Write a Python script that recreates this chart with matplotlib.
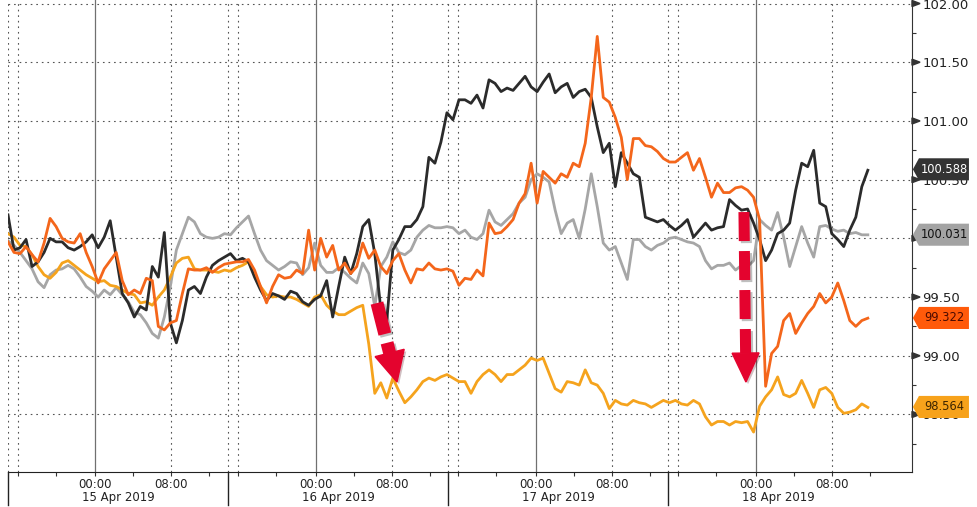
import numpy as np
import matplotlib
matplotlib.use('Agg')
import matplotlib.pyplot as plt
import matplotlib.patheffects as pe
from matplotlib.patches import Polygon

# ---- data (one value every ~40 min of trading time) ----
black = [100.20, 99.90, 99.92, 99.99, 99.76, 99.80, 99.88, 100.00, 99.97, 99.97, 99.92, 99.90,
         99.93, 99.97, 100.03, 99.92, 100.01, 100.15, 99.84, 99.53, 99.45, 99.33, 99.42, 99.39,
         99.76, 99.67, 100.05, 99.28, 99.11, 99.30, 99.56, 99.59, 99.53, 99.67, 99.77, 99.81,
         99.84, 99.87, 99.81, 99.83, 99.80, 99.67, 99.56, 99.47, 99.53, 99.51, 99.48, 99.55,
         99.53, 99.46, 99.43, 99.48, 99.51, 99.64, 99.33, 99.59, 99.84, 99.70, 99.87, 100.10,
         100.16, 99.87, 99.40, 99.30, 99.90, 99.99, 100.10, 100.10, 100.16, 100.27, 100.69, 100.64,
         100.82, 101.07, 101.01, 101.18, 101.18, 101.15, 101.22, 101.11, 101.35, 101.32, 101.25, 101.28,
         101.26, 101.32, 101.38, 101.29, 101.25, 101.33, 101.40, 101.24, 101.29, 101.32, 101.20, 101.25,
         101.27, 101.20, 100.95, 100.73, 100.81, 100.44, 100.73, 100.64, 100.55, 100.52, 100.18, 100.16,
         100.14, 100.16, 100.11, 100.07, 100.11, 100.16, 100.01, 100.07, 100.13, 100.07, 100.09, 100.10,
         100.33, 100.28, 100.24, 100.25, 100.13, 99.99, 99.81, 99.90, 100.04, 100.07, 100.13, 100.41,
         100.64, 100.61, 100.75, 100.30, 100.27, 100.04, 99.99, 99.93, 100.07, 100.18, 100.44, 100.58]

orange = [99.97, 99.88, 99.87, 99.93, 99.86, 99.80, 99.96, 100.17, 100.10, 100.00, 99.97, 99.96,
          100.04, 99.88, 99.76, 99.62, 99.74, 99.81, 99.88, 99.64, 99.52, 99.56, 99.53, 99.66,
          99.64, 99.25, 99.22, 99.28, 99.30, 99.53, 99.74, 99.73, 99.73, 99.75, 99.71, 99.75,
          99.78, 99.79, 99.80, 99.80, 99.82, 99.73, 99.59, 99.45, 99.59, 99.69, 99.66, 99.67,
          99.73, 99.70, 100.07, 99.73, 100.00, 99.84, 99.94, 99.73, 99.79, 99.70, 99.76, 99.96,
          99.83, 99.90, 99.76, 99.70, 99.81, 99.87, 99.73, 99.62, 99.74, 99.73, 99.79, 99.74,
          99.73, 99.74, 99.72, 99.60, 99.66, 99.65, 99.73, 99.68, 100.13, 100.04, 100.05, 100.10,
          100.16, 100.30, 100.38, 100.64, 100.30, 100.57, 100.52, 100.47, 100.55, 100.52, 100.64, 100.61,
          100.81, 101.20, 101.72, 101.20, 101.16, 101.03, 100.86, 100.50, 100.85, 100.85, 100.79, 100.78,
          100.74, 100.68, 100.65, 100.65, 100.69, 100.73, 100.58, 100.68, 100.52, 100.35, 100.47, 100.39,
          100.39, 100.43, 100.44, 100.41, 100.35, 100.16, 98.74, 99.02, 99.08, 99.30, 99.36, 99.19,
          99.28, 99.36, 99.42, 99.53, 99.45, 99.50, 99.62, 99.47, 99.30, 99.25, 99.30, 99.32]

gray = [99.98, 99.94, 99.88, 99.81, 99.74, 99.63, 99.58, 99.69, 99.73, 99.74, 99.77, 99.74,
        99.67, 99.59, 99.55, 99.50, 99.56, 99.52, 99.58, 99.52, 99.46, 99.37, 99.35, 99.28,
        99.19, 99.15, 99.33, 99.59, 99.90, 100.04, 100.18, 100.14, 100.04, 100.01, 100.00, 100.01,
        100.04, 100.03, 100.09, 100.14, 100.19, 100.04, 99.90, 99.81, 99.77, 99.73, 99.76, 99.80,
        99.79, 99.69, 99.75, 99.96, 99.77, 99.71, 99.71, 99.75, 99.71, 99.66, 99.62, 99.79,
        99.70, 99.42, 99.76, 99.84, 99.97, 99.88, 99.86, 99.90, 100.01, 100.07, 100.11, 100.09,
        100.09, 100.10, 100.09, 100.04, 100.07, 100.01, 99.99, 100.04, 100.24, 100.14, 100.11, 100.16,
        100.21, 100.30, 100.35, 100.50, 100.55, 100.52, 100.48, 100.24, 100.04, 100.13, 100.16, 100.00,
        100.25, 100.55, 100.27, 99.96, 99.90, 99.93, 99.79, 99.65, 99.99, 99.99, 99.93, 99.90,
        99.94, 99.96, 100.00, 100.01, 99.99, 99.97, 99.96, 99.93, 99.81, 99.74, 99.77, 99.77,
        99.79, 99.73, 99.77, 99.76, 99.81, 100.16, 100.11, 100.07, 100.22, 100.01, 99.76, 99.93,
        100.10, 99.96, 99.84, 100.10, 100.11, 100.08, 100.06, 100.07, 100.04, 100.05, 100.03, 100.03]

amber = [100.04, 100.01, 99.94, 99.93, 99.86, 99.76, 99.69, 99.66, 99.71, 99.79, 99.81, 99.77,
         99.73, 99.69, 99.66, 99.63, 99.64, 99.60, 99.59, 99.56, 99.53, 99.52, 99.45, 99.46,
         99.43, 99.50, 99.56, 99.67, 99.79, 99.83, 99.84, 99.74, 99.73, 99.73, 99.72, 99.71,
         99.73, 99.72, 99.75, 99.77, 99.80, 99.69, 99.59, 99.52, 99.50, 99.51, 99.50, 99.50,
         99.48, 99.45, 99.42, 99.50, 99.52, 99.43, 99.38, 99.35, 99.35, 99.38, 99.41, 99.43,
         99.10, 98.68, 98.77, 98.64, 98.81, 98.70, 98.60, 98.65, 98.71, 98.78, 98.81, 98.79,
         98.82, 98.84, 98.81, 98.78, 98.78, 98.68, 98.78, 98.84, 98.88, 98.84, 98.78, 98.84,
         98.84, 98.88, 98.92, 98.98, 98.96, 98.98, 98.85, 98.72, 98.69, 98.78, 98.77, 98.75,
         98.88, 98.77, 98.75, 98.68, 98.55, 98.62, 98.59, 98.58, 98.62, 98.60, 98.59, 98.56,
         98.59, 98.62, 98.60, 98.62, 98.59, 98.58, 98.62, 98.59, 98.48, 98.41, 98.44, 98.44,
         98.41, 98.44, 98.43, 98.44, 98.35, 98.57, 98.65, 98.71, 98.82, 98.67, 98.65, 98.68,
         98.79, 98.68, 98.56, 98.71, 98.73, 98.68, 98.56, 98.51, 98.52, 98.54, 98.59, 98.56]

last_values = [100.588, 100.031, 99.322, 98.564]
day_labels = ['15 Apr 2019', '16 Apr 2019', '17 Apr 2019', '18 Apr 2019']
time_labels = ['00:00', '08:00']

# trading-time axis in hours from 15 Apr 00:00, daily break removed
SESSION = 23.16      # shown hours per day
SESSION_OPEN = 13.95 # day separator, relative to 00:00
T_START, T_END = -9.21, 81.3

fig = plt.figure(figsize=(9.77, 5.07), dpi=100)
ax = fig.add_axes([8 / 977, 35 / 507, 904 / 977, 472 / 507])

t = np.linspace(T_START, T_END, len(black))
ax.plot(t, gray, color='#a6a6a6', lw=2.0, zorder=3)
ax.plot(t, amber, color='#f5a31d', lw=2.0, zorder=4)
ax.plot(t, black, color='#2b2b2b', lw=2.0, zorder=5)
ax.plot(t, orange, color='#f4661b', lw=2.0, zorder=6)

ax.set_xlim(T_START, 85.95)
ax.set_ylim(98.01, 102.03)

# grid
dots = (0, (1.5, 3.5))
yt = np.arange(98.5, 102.01, 0.5)
for v in yt:
    ax.axhline(v, color='#555555', lw=0.8, ls=dots, zorder=1)
for k in range(4):
    ax.axvline(k * SESSION, color='#707070', lw=0.9, zorder=1)
    ax.axvline(8 + k * SESSION, color='#555555', lw=0.8, ls=dots, zorder=1)
for k in range(-1, 3):
    ax.axvline(SESSION_OPEN + k * SESSION, color='#555555', lw=0.8, ls=dots, zorder=1)
    ax.axvline(15.05 + k * SESSION, color='#555555', lw=0.8, ls=dots, zorder=1)

# x axis: times, day separators and dates
xtr = ax.get_xaxis_transform()
major = [k * SESSION + h for k in range(4) for h in (0, 8)]
ax.set_xticks(major)
ax.set_xticklabels(time_labels * 4)
minor = [k * SESSION + h for k in range(-1, 4) for h in (4, 12, 15.05, 19.05)]
ax.set_xticks([m for m in minor if T_START < m < 82], minor=True)
ax.tick_params(axis='x', which='both', direction='out', length=3, width=0.8,
               color='#333333', pad=1, labelsize=8.5, labelcolor='#222222')
for k in range(-1, 3):
    x = SESSION_OPEN + k * SESSION
    ax.plot([x, x], [0, -33 / 472], transform=xtr, color='#222222', lw=1, clip_on=False)
    ax.text(x + SESSION / 2, -26 / 472, day_labels[k + 1], transform=xtr, ha='center',
            va='center', fontsize=8.5, color='#222222')

# y axis on the right
ax.yaxis.tick_right()
ax.set_yticks(yt)
ax.set_yticklabels([f'{v:.2f}' for v in yt])
ax.set_yticks(yt - 0.25, minor=True)
ax.tick_params(axis='y', which='major', length=0, pad=7.5, labelsize=9.5, labelcolor='#222222')
ax.tick_params(axis='y', which='minor', direction='out', length=3, width=0.8, color='#333333')
for s in ('left', 'top'):
    ax.spines[s].set_visible(False)
ax.spines['right'].set_color('#333333')
ax.spines['bottom'].set_color('#222222')

ytr = ax.get_yaxis_transform()
for v in yt:
    ax.add_patch(Polygon([(1.0, v + 0.026), (1.0, v - 0.026), (1.0089, v)], closed=True,
                         transform=ytr, clip_on=False, color='#333333', zorder=9))

# last value tags
tag_styles = [('#333333', 'white'), ('#a3a3a3', '#111111'),
              ('#ff5a0a', '#4a0a00'), ('#f7a21b', '#3d2400')]
h = 0.094
for v, (face, tc) in zip(last_values, tag_styles):
    ax.add_patch(Polygon([(1.001, v), (1.0077, v + h), (1.063, v + h), (1.063, v - h),
                          (1.0077, v - h)], closed=True, transform=ytr, clip_on=False,
                         facecolor=face, edgecolor='none', zorder=10))
    ax.text(1.0355, v, f'{v:.3f}', transform=ytr, ha='center', va='center',
            fontsize=8.3, color=tc, zorder=11, clip_on=False)

# red dashed arrows
RED = '#e4032e'


def red_arrow(tail, tip, lw_px, dash_px, gap_px, head_w, head_l):
    p0 = ax.transData.transform(tail)
    p1 = ax.transData.transform(tip)
    u = (p1 - p0) / np.hypot(*(p1 - p0))
    n = np.array([-u[1], u[0]])
    base = p1 - u * head_l
    inv = ax.transData.inverted()
    shaft = inv.transform([p0, base])
    shadow = [pe.SimpleLineShadow(offset=(1.5, -1.5), alpha=0.25), pe.Normal()]
    ax.plot(shaft[:, 0], shaft[:, 1], color=RED, lw=lw_px * 0.72,
            ls=(0, (dash_px / lw_px, gap_px / lw_px)), dash_capstyle='butt',
            solid_capstyle='butt', zorder=8, path_effects=shadow)
    head = inv.transform([base + n * head_w / 2, base - n * head_w / 2, p1])
    ax.add_patch(Polygon(head, closed=True, color=RED, zorder=8,
                         path_effects=[pe.SimplePatchShadow(offset=(1.5, -1.5), alpha=0.25),
                                       pe.Normal()]))


red_arrow((29.63, 99.449), (31.74, 98.776), 13, 32, 9, 30, 30)
red_arrow((68.26, 100.224), (68.47, 98.776), 11, 29, 10, 27, 29)

fig.savefig('out.png', dpi=100, facecolor='white')
